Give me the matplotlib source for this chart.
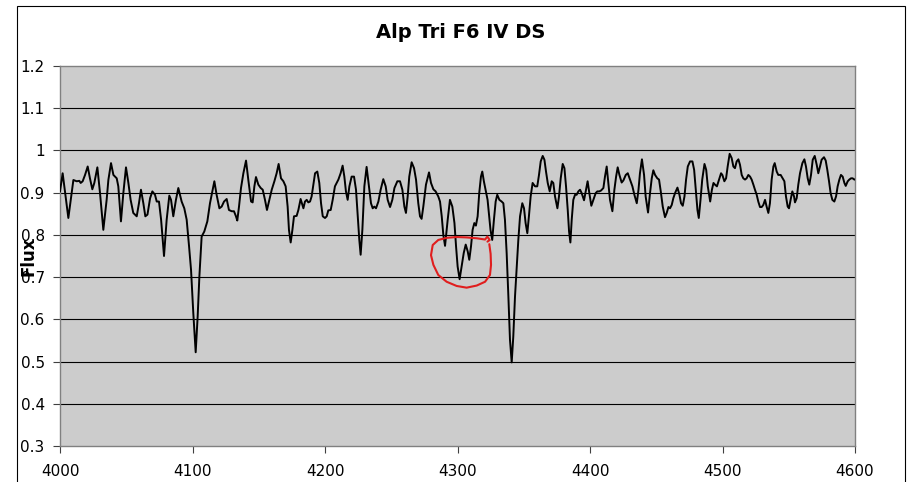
import matplotlib.pyplot as plt
from matplotlib.patches import Rectangle

# spectrum (wavelength in Angstrom, normalised flux)
wavelength = [
    4000.0, 4002.0, 4006.3, 4010.1, 4012.6, 4014.6, 4015.6, 4017.1, 4018.9, 4020.9,
    4022.6, 4024.4, 4025.9, 4028.2, 4030.2, 4032.7, 4035.2, 4036.5, 4038.5, 4040.3,
    4042.8, 4044.0, 4046.0, 4047.8, 4049.8, 4051.6, 4053.3, 4055.3, 4057.9, 4059.6,
    4061.1, 4062.9, 4064.4, 4066.0, 4068.0, 4069.7, 4071.7, 4073.0, 4074.7, 4076.3,
    4078.5, 4080.5, 4082.5, 4083.8, 4085.5, 4087.5, 4089.3, 4091.8, 4093.8, 4095.6,
    4097.4, 4098.9, 4100.6, 4102.4, 4103.9, 4105.2, 4106.9, 4108.9, 4111.2, 4113.2,
    4115.0, 4116.5, 4118.2, 4120.3, 4122.0, 4123.8, 4125.8, 4127.5, 4129.6, 4131.3,
    4132.8, 4133.8, 4135.1, 4136.6, 4138.4, 4140.4, 4142.1, 4144.2, 4145.4, 4146.7,
    4147.9, 4149.7, 4151.5, 4153.0, 4154.7, 4156.2, 4158.0, 4159.8, 4161.8, 4163.5,
    4165.0, 4166.8, 4168.6, 4170.3, 4171.8, 4172.8, 4174.1, 4175.4, 4176.6, 4178.6,
    4179.9, 4181.6, 4183.7, 4184.9, 4186.2, 4187.4, 4188.7, 4189.9, 4191.2, 4192.5,
    4194.2, 4195.7, 4197.0, 4198.3, 4200.0, 4201.3, 4202.5, 4204.3, 4205.8, 4207.5,
    4210.1, 4211.8, 4213.3, 4214.6, 4215.8, 4217.1, 4218.4, 4220.1, 4221.9, 4223.4,
    4224.7, 4225.9, 4226.9, 4228.2, 4229.7, 4231.4, 4233.2, 4234.7, 4236.0, 4237.2,
    4238.5, 4240.3, 4242.0, 4244.0, 4245.8, 4247.3, 4249.1, 4250.8, 4252.4, 4254.6,
    4256.6, 4258.4, 4259.9, 4261.1, 4262.4, 4263.6, 4265.4, 4267.2, 4268.7, 4270.4,
    4271.7, 4272.9, 4274.2, 4276.2, 4278.5, 4280.0, 4281.8, 4283.5, 4285.5, 4286.8,
    4288.1, 4289.3, 4290.6, 4292.6, 4294.3, 4296.1, 4297.7, 4298.9, 4300.1, 4301.6,
    4303.1, 4304.7, 4306.2, 4307.7, 4308.9, 4310.2, 4311.4, 4312.7, 4313.9, 4315.2,
    4316.4, 4317.7, 4318.7, 4319.9, 4321.2, 4322.7, 4323.9, 4324.9, 4326.2, 4327.5,
    4328.8, 4330.0, 4331.6, 4333.3, 4334.6, 4335.8, 4337.1, 4338.4, 4339.6, 4340.9,
    4342.1, 4343.4, 4344.7, 4345.9, 4347.2, 4348.9, 4350.2, 4351.4, 4352.7, 4353.9,
    4355.2, 4356.7, 4358.5, 4360.2, 4361.5, 4362.8, 4364.3, 4365.6, 4366.8, 4368.1,
    4369.6, 4371.1, 4372.3, 4373.6, 4375.4, 4376.6, 4377.9, 4379.4, 4380.7, 4381.9,
    4383.2, 4384.2, 4385.2, 4386.2, 4387.4, 4388.7, 4389.9, 4391.2, 4392.5, 4393.7,
    4395.5, 4397.0, 4398.2, 4399.5, 4401.0, 4402.5, 4404.3, 4405.5, 4407.0, 4408.3,
    4410.1, 4411.3, 4412.6, 4413.8, 4415.1, 4416.9, 4418.4, 4419.7, 4420.9, 4422.2,
    4423.9, 4425.2, 4427.0, 4428.5, 4430.2, 4432.0, 4433.5, 4435.3, 4436.6, 4437.7,
    4439.2, 4440.8, 4442.0, 4443.8, 4445.3, 4446.6, 4447.8, 4449.1, 4450.8, 4452.1,
    4453.4, 4454.9, 4456.6, 4457.9, 4459.2, 4460.4, 4461.7, 4462.9, 4464.2, 4466.0,
    4467.5, 4468.7, 4470.0, 4471.3, 4472.5, 4473.8, 4475.5, 4477.3, 4478.6, 4479.8,
    4481.1, 4482.1, 4483.4, 4484.7, 4486.4, 4487.7, 4488.9, 4490.7, 4492.0, 4493.2,
    4494.3, 4495.8, 4497.4, 4498.9, 4499.9, 4501.4, 4502.7, 4503.9, 4505.4, 4506.9,
    4508.2, 4509.4, 4510.7, 4512.0, 4513.2, 4514.5, 4515.7, 4517.0, 4518.2, 4519.5,
    4520.8, 4522.0, 4523.3, 4524.5, 4525.8, 4527.0, 4528.3, 4529.6, 4530.8, 4532.1,
    4533.3, 4534.6, 4535.8, 4537.1, 4538.4, 4539.4, 4540.9, 4542.1, 4543.9, 4545.4,
    4546.7, 4547.9, 4549.2, 4550.2, 4551.4, 4552.7, 4554.0, 4554.7, 4556.0, 4557.2,
    4558.5, 4560.3, 4561.8, 4563.0, 4564.3, 4565.5, 4566.8, 4568.1, 4569.6, 4571.1,
    4572.3, 4573.6, 4574.8, 4576.6, 4577.9, 4579.1, 4580.4, 4581.6, 4582.9, 4584.4,
    4585.7, 4586.9, 4588.2, 4589.4, 4590.7, 4592.0, 4593.0, 4594.5, 4595.7, 4597.0,
    4598.2, 4599.5, 4600.0,
]
flux = [
    0.903, 0.946, 0.840, 0.930, 0.927, 0.928, 0.923, 0.927, 0.942, 0.962,
    0.934, 0.908, 0.923, 0.960, 0.899, 0.812, 0.883, 0.930, 0.970, 0.942,
    0.934, 0.915, 0.832, 0.899, 0.960, 0.923, 0.883, 0.852, 0.844, 0.875,
    0.907, 0.875, 0.844, 0.848, 0.887, 0.903, 0.895, 0.879, 0.879, 0.836,
    0.750, 0.836, 0.893, 0.883, 0.844, 0.883, 0.911, 0.879, 0.863, 0.836,
    0.773, 0.717, 0.615, 0.522, 0.607, 0.702, 0.796, 0.808, 0.832, 0.875,
    0.903, 0.927, 0.895, 0.863, 0.867, 0.879, 0.885, 0.859, 0.856, 0.856,
    0.844, 0.834, 0.867, 0.911, 0.946, 0.976, 0.931, 0.879, 0.877, 0.915,
    0.937, 0.919, 0.911, 0.907, 0.883, 0.859, 0.883, 0.907, 0.927, 0.946,
    0.968, 0.934, 0.927, 0.915, 0.867, 0.812, 0.782, 0.812, 0.844, 0.845,
    0.859, 0.885, 0.863, 0.879, 0.883, 0.877, 0.879, 0.891, 0.919, 0.946,
    0.950, 0.923, 0.875, 0.844, 0.840, 0.844, 0.858, 0.859, 0.883, 0.915,
    0.931, 0.946, 0.964, 0.938, 0.903, 0.883, 0.915, 0.938, 0.938, 0.907,
    0.844, 0.788, 0.753, 0.812, 0.915, 0.961, 0.915, 0.875, 0.863, 0.867,
    0.863, 0.879, 0.907, 0.932, 0.915, 0.883, 0.866, 0.883, 0.911, 0.927,
    0.927, 0.907, 0.867, 0.852, 0.891, 0.938, 0.972, 0.958, 0.931, 0.875,
    0.844, 0.838, 0.867, 0.919, 0.948, 0.923, 0.908, 0.903, 0.891, 0.879,
    0.844, 0.800, 0.774, 0.836, 0.883, 0.867, 0.828, 0.773, 0.725, 0.695,
    0.725, 0.757, 0.777, 0.761, 0.741, 0.773, 0.812, 0.828, 0.822, 0.844,
    0.899, 0.938, 0.950, 0.927, 0.907, 0.883, 0.844, 0.812, 0.788, 0.836,
    0.879, 0.895, 0.883, 0.879, 0.875, 0.836, 0.757, 0.654, 0.552, 0.498,
    0.559, 0.654, 0.725, 0.788, 0.844, 0.875, 0.863, 0.828, 0.804, 0.844,
    0.891, 0.923, 0.915, 0.915, 0.942, 0.974, 0.987, 0.978, 0.950, 0.923,
    0.903, 0.927, 0.923, 0.891, 0.863, 0.891, 0.934, 0.968, 0.958, 0.915,
    0.859, 0.808, 0.782, 0.836, 0.883, 0.895, 0.895, 0.903, 0.907, 0.899,
    0.882, 0.907, 0.927, 0.899, 0.869, 0.883, 0.899, 0.903, 0.903, 0.905,
    0.911, 0.938, 0.962, 0.923, 0.883, 0.856, 0.907, 0.938, 0.960, 0.942,
    0.924, 0.929, 0.942, 0.946, 0.931, 0.915, 0.895, 0.875, 0.907, 0.946,
    0.979, 0.942, 0.891, 0.853, 0.899, 0.934, 0.953, 0.942, 0.934, 0.931,
    0.903, 0.867, 0.842, 0.852, 0.866, 0.863, 0.871, 0.887, 0.899, 0.912,
    0.895, 0.875, 0.869, 0.891, 0.931, 0.962, 0.974, 0.974, 0.954, 0.907,
    0.859, 0.840, 0.883, 0.931, 0.968, 0.954, 0.915, 0.879, 0.907, 0.923,
    0.919, 0.915, 0.931, 0.946, 0.942, 0.927, 0.934, 0.962, 0.992, 0.982,
    0.962, 0.958, 0.974, 0.979, 0.966, 0.942, 0.934, 0.931, 0.934, 0.942,
    0.938, 0.931, 0.919, 0.907, 0.895, 0.879, 0.866, 0.866, 0.871, 0.883,
    0.867, 0.852, 0.875, 0.931, 0.962, 0.970, 0.950, 0.942, 0.942, 0.934,
    0.927, 0.891, 0.867, 0.863, 0.883, 0.903, 0.891, 0.877, 0.887, 0.919,
    0.946, 0.970, 0.979, 0.962, 0.934, 0.919, 0.942, 0.978, 0.987, 0.966,
    0.946, 0.962, 0.978, 0.984, 0.976, 0.954, 0.927, 0.899, 0.883, 0.879,
    0.891, 0.915, 0.931, 0.942, 0.938, 0.923, 0.916, 0.927, 0.931, 0.934,
    0.934, 0.931, 0.931,
]

# hand-drawn red ring around the 4300 feature
circle_wl = [4324.0, 4325.0, 4325.3, 4324.5, 4320.8, 4314.5, 4306.9, 4299.4, 4291.8, 4285.5,
             4281.8, 4280.0, 4281.3, 4285.5, 4291.8, 4299.4, 4306.9, 4314.5, 4320.8, 4322.5,
             4324.3, 4322.6]
circle_flux = [0.778, 0.755, 0.729, 0.705, 0.689, 0.680, 0.675, 0.679, 0.689, 0.705,
               0.729, 0.752, 0.776, 0.788, 0.793, 0.795, 0.794, 0.792, 0.789, 0.796,
               0.788, 0.784]

x_ticks = [4000, 4100, 4200, 4300, 4400, 4500, 4600]
y_ticks = [0.3, 0.4, 0.5, 0.6, 0.7, 0.8, 0.9, 1.0, 1.1, 1.2]
y_tick_labels = ["0.3", "0.4", "0.5", "0.6", "0.7", "0.8", "0.9", "1", "1.1", "1.2"]
title = "Alp Tri F6 IV DS"
y_label = "Flux"

plt.rcParams['font.family'] = 'DejaVu Sans'

W, H = 910, 482
fig = plt.figure(figsize=(W / 100, H / 100), dpi=100)

# outer chart border
fig.patches.append(Rectangle((17 / W, -0.02), (905 - 17) / W, 1 - 6 / H + 0.02,
                             transform=fig.transFigure, fill=False,
                             edgecolor='black', linewidth=0.8))

ax = fig.add_axes([60 / W, 1 - 446 / H, 795 / W, 380 / H])
ax.set_facecolor('#cccccc')

for y in y_ticks[1:-1]:
    ax.axhline(y, color='black', linewidth=0.8, zorder=1)

ax.plot(wavelength, flux, color='black', linewidth=1.4, zorder=3)
ax.plot(circle_wl, circle_flux, color='#e01e1e', linewidth=1.5, zorder=4,
        solid_capstyle='round', solid_joinstyle='round')

ax.set_xlim(4000, 4600)
ax.set_ylim(0.3, 1.2)
ax.set_xticks(x_ticks)
ax.set_yticks(y_ticks)
ax.set_yticklabels(y_tick_labels)
ax.tick_params(axis='both', direction='out', length=5, width=0.8,
               color='#404040', labelsize=11)
ax.tick_params(axis='x', pad=8)
ax.tick_params(axis='y', pad=6)

for sp in ax.spines.values():
    sp.set_color('#808080')
    sp.set_linewidth(1.0)

fig.text(461 / W, 1 - 32 / H, title, ha='center', va='center',
         fontsize=14, fontweight='bold')
fig.text(29 / W, 1 - 256 / H, y_label, ha='center', va='center',
         rotation=90, fontsize=12, fontweight='bold')

fig.savefig('out.png', dpi=100)
